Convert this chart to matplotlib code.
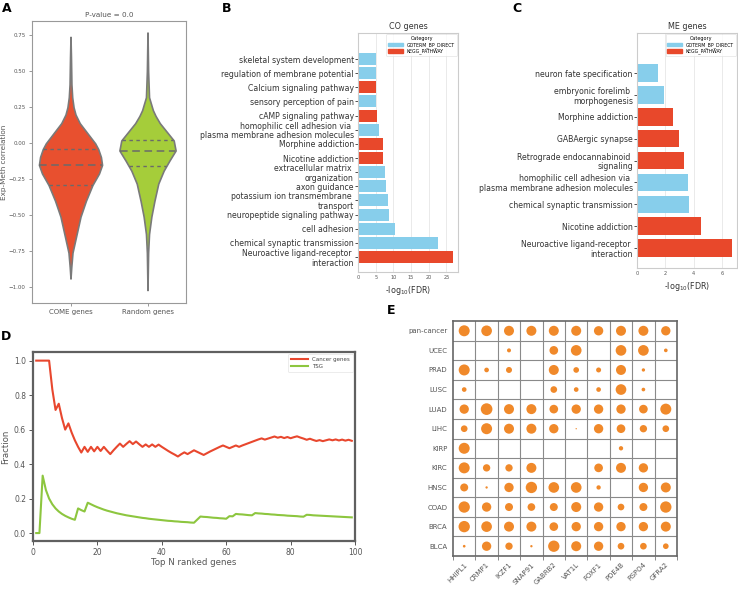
import numpy as np
import matplotlib
matplotlib.use('Agg')
from matplotlib import pyplot as plt

plt.rcParams['font.family'] = ['DejaVu Sans']

# ---------------- A: violin profiles (y, half-width) ----------------
violin_names = ['COME genes', 'Random genes']
come_y = [-0.94, -0.86, -0.76, -0.63, -0.51, -0.40, -0.29, -0.21, -0.15, -0.095, -0.04, 0.0, 0.07, 0.14, 0.20, 0.25, 0.32, 0.41, 0.60, 0.74]
come_w = [0.0, 0.01, 0.026, 0.08, 0.13, 0.2, 0.285, 0.37, 0.41, 0.395, 0.36, 0.32, 0.22, 0.12, 0.065, 0.04, 0.022, 0.012, 0.006, 0.0]
come_q = [-0.29, -0.15, -0.04]
rand_y = [-1.02, -0.76, -0.63, -0.51, -0.40, -0.28, -0.19, -0.12, -0.05, 0.02, 0.08, 0.14, 0.19, 0.23, 0.32, 0.50, 0.77]
rand_w = [0.0, 0.008, 0.02, 0.05, 0.09, 0.14, 0.21, 0.285, 0.365, 0.34, 0.25, 0.16, 0.105, 0.07, 0.02, 0.008, 0.0]
rand_q = [-0.16, -0.055, 0.025]
pvalue_text = 'P-value = 0.0'

# ---------------- B: CO genes ----------------
co_terms = ['skeletal system development', 'regulation of membrane potential', 'Calcium signaling pathway',
            'sensory perception of pain', 'cAMP signaling pathway',
            'homophilic cell adhesion via \nplasma membrane adhesion molecules', 'Morphine addiction',
            'Nicotine addiction', 'extracellular matrix \norganization', 'axon guidance',
            'potassium ion transmembrane \ntransport', 'neuropeptide signaling pathway', 'cell adhesion',
            'chemical synaptic transmission', 'Neuroactive ligand-receptor \ninteraction']
co_vals = [5.0, 5.0, 5.0, 5.0, 5.5, 6.0, 7.0, 7.2, 7.5, 8.0, 8.5, 8.7, 10.5, 22.5, 27.0]
co_cat = ['GO', 'GO', 'KEGG', 'GO', 'KEGG', 'GO', 'KEGG', 'KEGG', 'GO', 'GO', 'GO', 'GO', 'GO', 'GO', 'KEGG']

# ---------------- C: ME genes ----------------
me_terms = ['neuron fate specification', 'embryonic forelimb \nmorphogenesis', 'Morphine addiction',
            'GABAergic synapse', 'Retrograde endocannabinoid \nsignaling',
            'homophilic cell adhesion via \nplasma membrane adhesion molecules',
            'chemical synaptic transmission', 'Nicotine addiction',
            'Neuroactive ligand-receptor \ninteraction']
me_vals = [1.5, 1.9, 2.55, 2.95, 3.35, 3.6, 3.7, 4.5, 6.7]
me_cat = ['GO', 'GO', 'KEGG', 'KEGG', 'KEGG', 'GO', 'GO', 'KEGG', 'KEGG']

# ---------------- D: fraction vs top N ----------------
top_n = list(range(1, 100))
cancer_frac = [1.0, 1.0, 1.0, 1.0, 1.0, 0.833, 0.714, 0.75, 0.667, 0.6,
               0.636, 0.583, 0.538, 0.5, 0.467, 0.5, 0.471, 0.5, 0.474, 0.5,
               0.476, 0.5, 0.478, 0.458, 0.48, 0.5, 0.519, 0.5, 0.517, 0.533,
               0.516, 0.531, 0.515, 0.5, 0.514, 0.5, 0.514, 0.5, 0.513, 0.5,
               0.488, 0.476, 0.465, 0.455, 0.444, 0.457, 0.468, 0.458, 0.469, 0.48,
               0.471, 0.462, 0.453, 0.463, 0.473, 0.482, 0.491, 0.5, 0.508, 0.5,
               0.492, 0.5, 0.508, 0.5, 0.508, 0.515, 0.522, 0.529, 0.536, 0.543,
               0.549, 0.542, 0.548, 0.554, 0.56, 0.553, 0.558, 0.551, 0.557, 0.55,
               0.556, 0.561, 0.554, 0.548, 0.541, 0.547, 0.54, 0.534, 0.539, 0.533,
               0.538, 0.543, 0.538, 0.543, 0.537, 0.542, 0.536, 0.541, 0.535]
tsg_frac = [0.0, 0.0, 0.333, 0.25, 0.2, 0.167, 0.143, 0.125, 0.111, 0.1,
            0.091, 0.083, 0.077, 0.143, 0.133, 0.125, 0.176, 0.167, 0.158, 0.15,
            0.143, 0.136, 0.13, 0.125, 0.12, 0.115, 0.111, 0.107, 0.103, 0.1,
            0.097, 0.094, 0.091, 0.088, 0.086, 0.083, 0.081, 0.079, 0.077, 0.075,
            0.073, 0.071, 0.07, 0.068, 0.067, 0.065, 0.064, 0.063, 0.061, 0.06,
            0.078, 0.096, 0.094, 0.093, 0.091, 0.089, 0.088, 0.086, 0.085, 0.083,
            0.098, 0.097, 0.111, 0.109, 0.108, 0.106, 0.104, 0.103, 0.116, 0.114,
            0.113, 0.111, 0.11, 0.108, 0.107, 0.105, 0.104, 0.103, 0.101, 0.1,
            0.099, 0.098, 0.096, 0.095, 0.106, 0.105, 0.103, 0.102, 0.101, 0.1,
            0.099, 0.098, 0.097, 0.096, 0.095, 0.094, 0.093, 0.092, 0.091]

# ---------------- E: dot matrix ----------------
e_genes = ['HHIPL1', 'CRMP1', 'IKZF1', 'SNAP91', 'GABRB2', 'VAT1L', 'FOXF1', 'PDE4B', 'RSPO4', 'GFRA2']
e_cancers = ['pan-cancer', 'UCEC', 'PRAD', 'LUSC', 'LUAD', 'LIHC', 'KIRP', 'KIRC', 'HNSC', 'COAD', 'BRCA', 'BLCA']
e_sizes = [
    [33, 32, 30, 30, 30, 30, 28, 30, 30, 28],
    [0, 0, 12, 0, 26, 32, 0, 32, 32, 11],
    [33, 14, 18, 0, 30, 17, 15, 30, 10, 0],
    [14, 0, 0, 0, 20, 14, 14, 32, 11, 0],
    [28, 35, 30, 30, 26, 28, 28, 28, 26, 33],
    [20, 33, 30, 30, 28, 4, 28, 26, 22, 20],
    [33, 0, 0, 0, 0, 0, 0, 13, 0, 0],
    [33, 22, 22, 30, 0, 0, 26, 30, 28, 0],
    [24, 7, 28, 34, 32, 32, 13, 0, 28, 30],
    [34, 28, 24, 23, 24, 30, 28, 20, 24, 34],
    [34, 32, 30, 30, 26, 28, 28, 28, 28, 30],
    [8, 28, 22, 7, 34, 30, 28, 20, 20, 17],
]

RED = '#e8502f'
GREEN = '#a5cd3a'
BLUE = '#87ceeb'
KRED = '#e8482b'
ORANGE = '#f0892a'
TXT = '#555555'

W, H = 738, 590
fig = plt.figure(figsize=(W / 100, H / 100), dpi=100)

def box(l, t, r, b):
    return [l / W, 1 - b / H, (r - l) / W, (b - t) / H]

# ---------- A ----------
axA = fig.add_axes(box(32, 21, 186, 303))
stats = []
for ys, ws, qs in [(come_y, come_w, come_q), (rand_y, rand_w, rand_q)]:
    stats.append(dict(coords=np.array(ys), vals=np.array(ws), mean=qs[1], median=qs[1],
                      min=ys[0], max=ys[-1], quantiles=[]))
parts = axA.violin(stats, positions=[0, 1], widths=[2 * max(come_w), 2 * max(rand_w)],
                   showmeans=False, showextrema=False, showmedians=False)
for body, c in zip(parts['bodies'], [RED, GREEN]):
    body.set_facecolor(c)
    body.set_edgecolor('#7a7a7a')
    body.set_linewidth(1.2)
    body.set_alpha(1)
for pos, (ys, ws, qs) in enumerate([(come_y, come_w, come_q), (rand_y, rand_w, rand_q)]):
    for k, q in enumerate(qs):
        hw = np.interp(q, ys, ws)
        if k == 1:
            axA.plot([pos - hw, pos + hw], [q, q], color='#6a6a6a', lw=1.1, dashes=(5, 3))
        else:
            axA.plot([pos - hw, pos + hw], [q, q], color='#6a6a6a', lw=1.0, dashes=(2.5, 2.5))
axA.set_xlim(-0.5, 1.5)
axA.set_ylim(-1.11, 0.85)
axA.set_xticks([0, 1])
axA.set_xticklabels(violin_names, fontsize=5, color=TXT)
axA.set_yticks([-1.0, -0.75, -0.5, -0.25, 0.0, 0.25, 0.5, 0.75])
axA.set_yticklabels(['\u22121.00', '\u22120.75', '\u22120.50', '\u22120.25', '0.00', '0.25', '0.50', '0.75'],
                    fontsize=4, color=TXT)
axA.tick_params(length=2.5, width=0.6, color='#888888', pad=2)
axA.set_ylabel('Exp-Meth correlation', fontsize=5.2, color=TXT, labelpad=1)
axA.set_title(pvalue_text, fontsize=5.2, color=TXT, pad=3)
for s in axA.spines.values():
    s.set_color('#999999')
    s.set_linewidth(0.8)

# ---------- B & C ----------
def enrich(rect, terms, vals, cats, title, xmax, xticks, top_pad, bot_pad, bar_h):
    ax = fig.add_axes(rect)
    y = np.arange(len(terms))
    cols = [BLUE if c == 'GO' else KRED for c in cats]
    ax.barh(y, vals, height=bar_h, color=cols, zorder=2)
    ax.set_ylim(len(terms) - 1 + bot_pad, -top_pad)
    ax.set_xlim(0, xmax)
    ax.set_yticks(y)
    ax.set_yticklabels(terms, fontsize=5.6, color='#333333', linespacing=1.1)
    ax.set_xticks(xticks)
    ax.set_xticklabels([str(t) for t in xticks], fontsize=3.6, color=TXT)
    ax.tick_params(axis='y', length=2, width=0.6, pad=1, color='#333333')
    ax.tick_params(axis='x', length=0, pad=2)
    ax.xaxis.grid(True, color='#e6e6e6', lw=0.6, zorder=0)
    ax.set_axisbelow(True)
    ax.set_xlabel('-log$_{10}$(FDR)', fontsize=5.8, color='#333333', labelpad=3)
    ax.set_title(title, fontsize=5.8, color='#333333', pad=3)
    for s in ax.spines.values():
        s.set_color('#cccccc')
        s.set_linewidth(0.8)
    hs = [plt.Rectangle((0, 0), 1, 1, color=BLUE), plt.Rectangle((0, 0), 1, 1, color=KRED)]
    leg = ax.legend(hs, ['GOTERM_BP_DIRECT', 'KEGG_PATHWAY'], title='Category', loc='upper right',
                    fontsize=3.3, title_fontsize=3.5, frameon=True, handlelength=3.2, handleheight=0.9,
                    borderpad=0.4, labelspacing=0.2, borderaxespad=0.3)
    leg.get_frame().set_edgecolor('#dddddd')
    leg.get_frame().set_linewidth(0.5)
    return ax

enrich(box(358, 33, 458, 272), co_terms, co_vals, co_cat, 'CO genes', 28.3,
       [0, 5, 10, 15, 20, 25], 1.84, 1.06, 0.85)
enrich(box(637, 33, 737, 268), me_terms, me_vals, me_cat, 'ME genes', 7.06,
       [0, 2, 4, 6], 1.83, 0.91, 0.8)

# ---------- D ----------
axD = fig.add_axes(box(33, 352, 355, 541))
axD.plot(top_n, cancer_frac, color='#e8472e', lw=1.5, label='Cancer genes')
axD.plot(top_n, tsg_frac, color='#8dc63f', lw=1.5, label='TSG')
axD.set_xlim(0, 100)
axD.set_ylim(-0.046, 1.05)
axD.set_xticks([0, 20, 40, 60, 80, 100])
axD.set_yticks([0.0, 0.2, 0.4, 0.6, 0.8, 1.0])
axD.tick_params(labelsize=5.5, labelcolor=TXT, length=3, width=0.7, color='#555555', pad=2)
axD.set_xlabel('Top N ranked genes', fontsize=6.2, color=TXT, labelpad=1)
axD.set_ylabel('Fraction', fontsize=6.2, color=TXT, labelpad=3)
for s in axD.spines.values():
    s.set_color('#606060')
    s.set_linewidth(1.6)
leg = axD.legend(loc='upper right', fontsize=4, frameon=True, handlelength=3, borderpad=0.5,
                 labelspacing=0.4, borderaxespad=0.4)
leg.get_frame().set_edgecolor('#dddddd')
leg.get_frame().set_linewidth(0.5)
for t in leg.get_texts():
    t.set_color('#444444')

# ---------- E ----------
axE = fig.add_axes(box(453, 321, 677, 556))
nr, nc = len(e_cancers), len(e_genes)
xs, ys, ss = [], [], []
for i, row in enumerate(e_sizes):
    for j, d in enumerate(row):
        if d > 0:
            xs.append(j + 0.5)
            ys.append(nr - 1 - i + 0.5)
            ss.append((d / 3 * 0.72) ** 2)
axE.scatter(xs, ys, s=ss, color=ORANGE, edgecolors='none', zorder=3)
axE.set_xlim(0, nc)
axE.set_ylim(0, nr)
for k in range(1, nc):
    axE.axvline(k, color='#8a8a8a', lw=0.8, zorder=1)
for k in range(1, nr):
    axE.axhline(k, color='#8a8a8a', lw=0.8, zorder=1)
axE.set_xticks(np.arange(nc) + 0.5)
axE.set_xticklabels(e_genes, rotation=45, ha='right', rotation_mode='anchor', fontsize=5, color=TXT)
axE.set_xticks(np.arange(nc + 1), minor=True)
axE.set_yticks(np.arange(nr) + 0.5)
axE.set_yticklabels(e_cancers[::-1], fontsize=5, color=TXT)
axE.tick_params(axis='both', which='major', length=0, pad=4)
axE.tick_params(axis='x', which='minor', length=3, width=0.7, color='#8a8a8a')
for s in axE.spines.values():
    s.set_color('#666666')
    s.set_linewidth(1.2)

# ---------- panel letters ----------
for lab, px, py in [('A', 7, 8), ('B', 227, 8), ('C', 517, 8), ('D', 6, 337), ('E', 391, 311)]:
    fig.text(px / W, 1 - py / H, lab, fontsize=9, fontweight='bold', ha='center', va='center')

fig.savefig('out.png', dpi=100)
